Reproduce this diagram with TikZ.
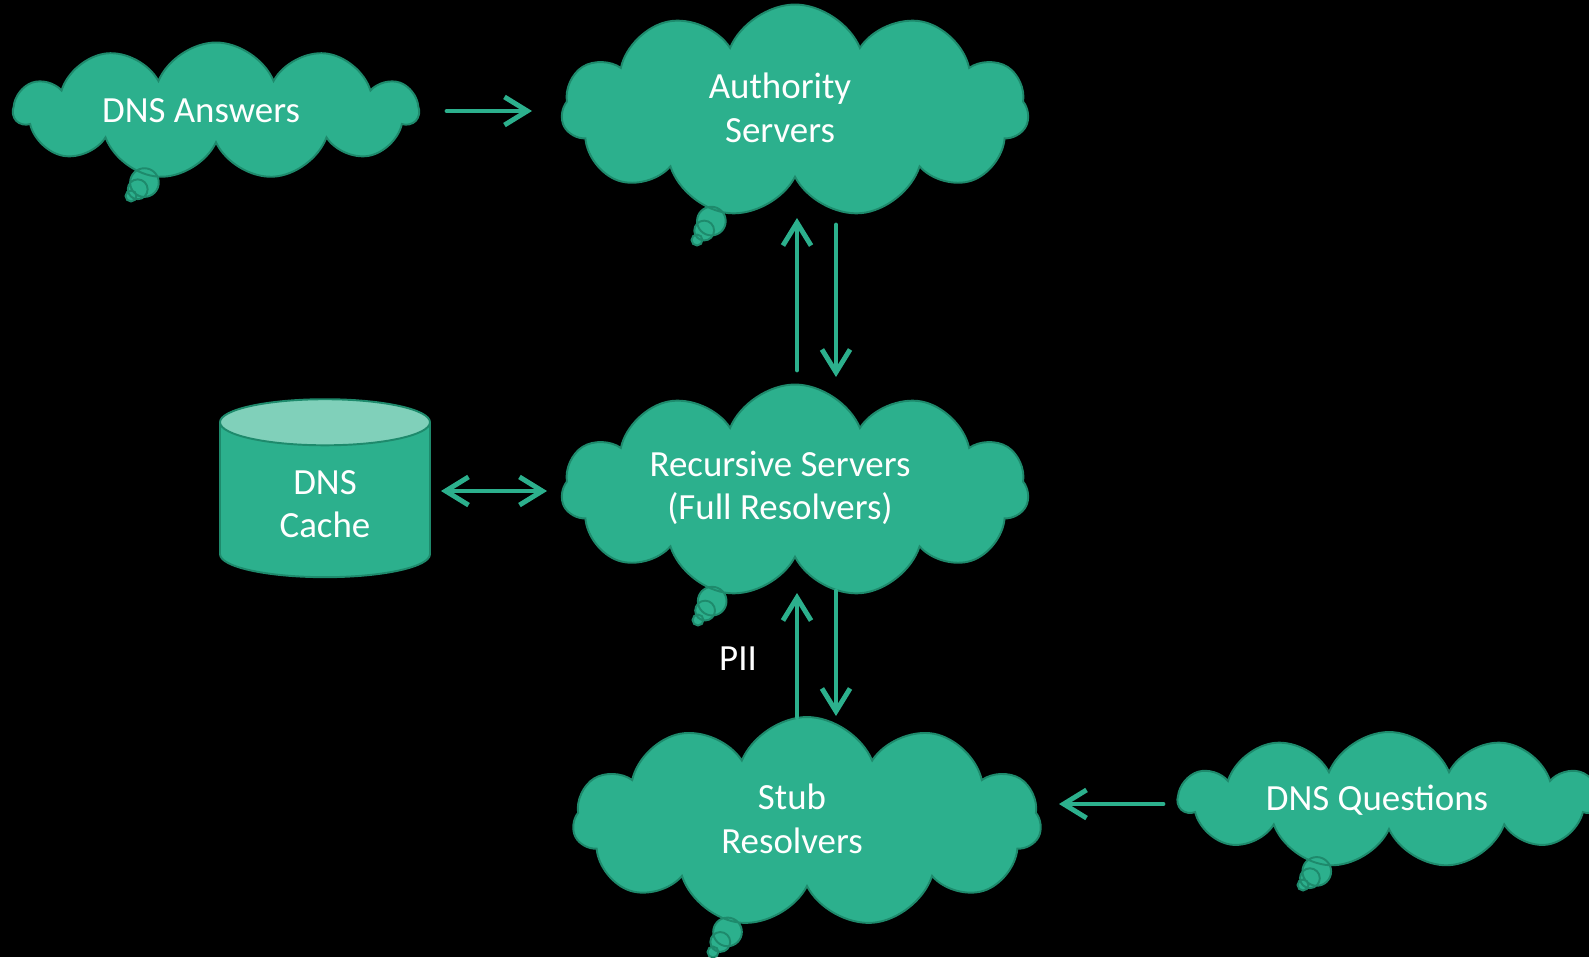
\documentclass[tikz,border=0pt]{standalone}
\usepackage{fontspec}
\setmainfont{Carlito}
\usetikzlibrary{positioning,calc,arrows.meta,shapes.callouts,shapes.geometric}
\definecolor{dnsgreen}{RGB}{44,176,141}
\definecolor{dnsedge}{RGB}{30,138,108}
\definecolor{dnslight}{RGB}{128,208,186}

\begin{document}
\begin{tikzpicture}[x=0.02cm, y=-0.02cm,
>={Straight Barb[length=13pt,width=16pt]},
cloudnode/.style={cloud callout, cloud puffs=11, cloud puff arc=135, cloud ignores aspect, draw=dnsedge, fill=dnsgreen, line width=1.1pt, callout pointer start size=0.75cm, callout pointer end size=0.22cm, callout pointer segments=3},
cloudtext/.style={text=white, align=center, font=\fontsize{21}{24.7}\selectfont, xshift=-0.3cm, yshift=0.06cm},
cachenode/.style={cylinder, shape border rotate=90, aspect=0.45, draw=dnsedge, line width=1.1pt, cylinder uses custom fill, cylinder body fill=dnsgreen, cylinder end fill=dnslight, text=white, align=center, font=\fontsize{21}{24.7}\selectfont, minimum width=4.2cm, minimum height=3.56cm},
flow/.style={draw=dnsgreen, line width=2.8pt, line cap=round},
]
\fill[black] (0,0) rectangle (1589,957);
\useasboundingbox (0,0) rectangle (1589,957);
%Nodes
\node[cloudnode, minimum width=8.08cm, minimum height=2.74cm, callout absolute pointer={(131,196)}, label={[cloudtext, yshift=-0.06cm]center:DNS Answers}] (ans) at (216,111) {};
\node[cloudnode, minimum width=9.34cm, minimum height=4.26cm, callout absolute pointer={(697,240)}, label={[cloudtext]center:Authority\\Servers}] (auth) at (795,111) {};
\node[cloudnode, minimum width=9.34cm, minimum height=4.26cm, callout absolute pointer={(698,620)}, label={[cloudtext]center:Recursive Servers\\(Full Resolvers)}] (rec) at (795,491) {};
\node[cloudnode, minimum width=9.36cm, minimum height=4.2cm, callout absolute pointer={(713,952)}, label={[cloudtext]center:Stub\\Resolvers}] (stub) at (807,822) {};
\node[cloudnode, minimum width=8.4cm, minimum height=2.72cm, callout absolute pointer={(1303,885)}, label={[cloudtext, xshift=0.06cm, yshift=-0.06cm]center:DNS Questions}] (que) at (1389,800) {};
\node[cachenode] (cache) at (325,504) {DNS\\Cache};
\node[text=white, font=\fontsize{21}{24.7}\selectfont] (pii) at (738,659) {PII};

%Lines
\draw[flow, ->] ($(ans.center)+(231,0)$) -- ($(auth.center)+(-263,0)$);
\draw[flow, ->] ($(rec.center)+(2,-121)$) -- ($(auth.center)+(2,107)$);
\draw[flow, ->] ($(auth.center)+(41,114)$) -- ($(rec.center)+(41,-114)$);
\draw[flow, <->] ($(cache.center)+(116,-13)$) -- ($(rec.center)+(-248,0)$);
\draw[flow, ->] ($(stub.center)+(-10,-105)$) -- ($(rec.center)+(2,102)$);
\draw[flow, ->] ($(rec.center)+(41,100)$) -- ($(stub.center)+(29,-106)$);
\draw[flow, ->] ($(que.center)+(-226,4)$) -- ($(stub.center)+(252,-18)$);
\end{tikzpicture}
\end{document}
